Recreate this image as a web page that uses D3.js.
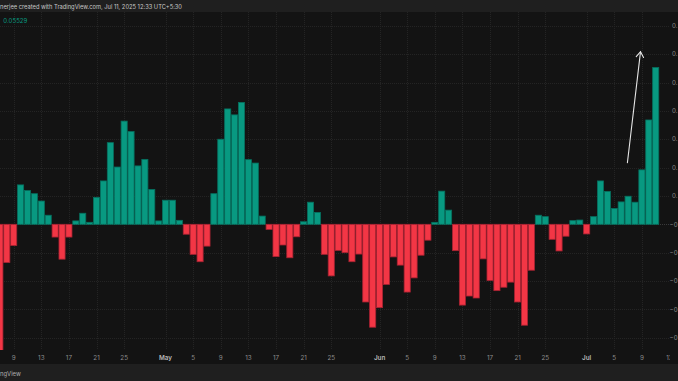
<!DOCTYPE html>
<html>
<head>
<meta charset="utf-8">
<script src="https://cdn.jsdelivr.net/npm/d3@7"></script>
<style>
html,body{margin:0;padding:0;background:#131313;overflow:hidden;}
svg{display:block;font-family:"Inter","Noto Sans",sans-serif;}
</style>
</head>
<body>
<svg id="chart" width="678" height="381"></svg>
<script>
// ---- data ----
const startDate = "2025-04-07";
const aprValues = [-0.0450,-0.0135,-0.0075,0.0139,0.0119,0.0108,0.0082,0.0032,-0.0045,-0.0123,-0.0045,0.0012,0.0039,0.0007,0.0095,0.0153,0.0288,0.0202,0.0364,0.0327,0.0206,0.0229,0.0123,0.0012];
const mayValues = [0.0085,0.0085,0.0014,-0.0035,-0.0106,-0.0132,-0.0077,0.0108,0.0300,0.0407,0.0386,0.0430,0.0228,0.0216,0.0029,-0.0018,-0.0114,-0.0073,-0.0118,-0.0044,0.0009,0.0078,0.0042,-0.0106,-0.0182,-0.0092,-0.0100,-0.0132,-0.0105,-0.0274,-0.0363];
const junValues = [-0.0294,-0.0212,-0.0115,-0.0144,-0.0239,-0.0189,-0.0109,-0.0056,0.0007,0.0117,0.0050,-0.0093,-0.0285,-0.0253,-0.0260,-0.0122,-0.0198,-0.0234,-0.0222,-0.0204,-0.0274,-0.0356,-0.0162,0.0032,0.0027,-0.0053,-0.0094,-0.0042,0.0013,0.0015];
const julValues = [-0.0034,0.0027,0.0153,0.0116,0.0056,0.0079,0.0099,0.0078,0.0192,0.0368,0.05529];
const xTickDates = ["2025-04-09","2025-04-13","2025-04-17","2025-04-21","2025-04-25","2025-05-01","2025-05-05","2025-05-09","2025-05-13","2025-05-17","2025-05-21","2025-05-25","2025-06-01","2025-06-05","2025-06-09","2025-06-13","2025-06-17","2025-06-21","2025-06-25","2025-07-01","2025-07-05","2025-07-09","2025-07-13"];
const xTickLabels = ["9","13","17","21","25","May","5","9","13","17","21","25","Jun","5","9","13","17","21","25","Jul","5","9","13"];
const yTicks = [0.07,0.06,0.05,0.04,0.03,0.02,0.01,0,-0.01,-0.02,-0.03,-0.04];
// price scale is cropped by the screenshot's right edge: only these fragments are visible
const yTickLabels = ["0.","0.","0.","0.","0.","0.","0.","−0","−0","−0","−0","−0"];
const arrowFrom = {date:"2025-07-06T21:36", value:0.0217};
const arrowTo   = {date:"2025-07-08T19:12", value:0.0609};
const headerText = "nerjee created with TradingView.com, Jul 11, 2025 12:33 UTC+5:30";
const legendValue = "0.05529";
const footerText = "ngView";

// ---- build ----
const values = aprValues.concat(mayValues, junValues, julValues);
const parse = d3.utcParse("%Y-%m-%d");
const parseT = d3.utcParse("%Y-%m-%dT%H:%M");
const dates = d3.utcDay.range(parse(startDate), d3.utcDay.offset(parse(startDate), values.length));
const data = dates.map((d,i)=>({date:d, value:values[i]}));

const W = 678, H = 381;
const paneTop = 12, paneBottom = 350, paneRight = 670;
const svg = d3.select("#chart");

svg.append("rect").attr("width",W).attr("height",H).attr("fill","#131313");

// scales
const x = d3.scaleUtc()
  .domain([parse("2025-04-09"), parse("2025-07-09")])
  .range([13.7, 641.9]);
const step = x(parse("2025-04-10")) - x(parse("2025-04-09"));
const y = d3.scaleLinear().domain([0, 0.07]).range([224.3, 25.85]);

const defs = svg.append("defs");
defs.append("clipPath").attr("id","pane").append("rect")
  .attr("x",0).attr("y",paneTop).attr("width",paneRight).attr("height",paneBottom-paneTop);
defs.append("clipPath").attr("id","timeaxis").append("rect")
  .attr("x",0).attr("y",paneBottom).attr("width",paneRight).attr("height",14);

// grid
const grid = svg.append("g").attr("clip-path","url(#pane)");
grid.selectAll("line.v").data(xTickDates).join("line")
  .attr("class","v")
  .attr("x1",d=>Math.round(x(parse(d)))+0.5).attr("x2",d=>Math.round(x(parse(d)))+0.5)
  .attr("y1",paneTop).attr("y2",paneBottom)
  .attr("stroke","#242424").attr("stroke-width",1).attr("stroke-dasharray","1,1");
grid.selectAll("line.h").data(yTicks).join("line")
  .attr("class","h")
  .attr("x1",0).attr("x2",paneRight)
  .attr("y1",d=>Math.round(y(d))+0.5).attr("y2",d=>Math.round(y(d))+0.5)
  .attr("stroke",d=>d===0?"#3a3a3a":"#242424").attr("stroke-width",1).attr("stroke-dasharray","1,1");

// bars
const bars = svg.append("g").attr("clip-path","url(#pane)");
bars.selectAll("rect").data(data).join("rect")
  .attr("x",d=>x(d.date)-step/2+0.4)
  .attr("width",step-0.8)
  .attr("y",d=>Math.min(y(d.value),y(0)))
  .attr("height",d=>Math.abs(y(d.value)-y(0)))
  .attr("fill",d=>d.value>=0?"#089981":"#f23645")
  .attr("stroke",d=>d.value>=0?"#06705f":"#a82232")
  .attr("stroke-width",0.8);

// arrow annotation
const ax1 = x(parseT(arrowFrom.date)), ay1 = y(arrowFrom.value);
const ax2 = x(parseT(arrowTo.date)), ay2 = y(arrowTo.value);
const ang = Math.atan2(ay2-ay1, ax2-ax1);
const headLen = 6.5, spread = 0.6;
const arrowG = svg.append("g").attr("clip-path","url(#pane)")
  .attr("stroke","#e6e6e6").attr("stroke-width",1.1).attr("fill","none").attr("stroke-linecap","round");
arrowG.append("line").attr("x1",ax1).attr("y1",ay1).attr("x2",ax2).attr("y2",ay2);
arrowG.append("path").attr("d", d3.line()([
  [ax2-headLen*Math.cos(ang-spread), ay2-headLen*Math.sin(ang-spread)],
  [ax2, ay2],
  [ax2-headLen*Math.cos(ang+spread), ay2-headLen*Math.sin(ang+spread)]
]));

// time axis labels
const tg = svg.append("g").attr("clip-path","url(#timeaxis)");
tg.selectAll("text").data(xTickDates).join("text")
  .attr("x",d=>x(parse(d)))
  .attr("y",360.3)
  .attr("text-anchor","middle")
  .attr("font-size",6.3)
  .attr("font-weight",(d,i)=>isNaN(+xTickLabels[i])?600:400)
  .attr("fill",(d,i)=>isNaN(+xTickLabels[i])?"#b8b8b8":"#8c8c8c")
  .text((d,i)=>xTickLabels[i]);

// price axis labels
svg.append("g").selectAll("text").data(yTicks).join("text")
  .attr("x",677.6)
  .attr("y",d=>y(d)+2.2)
  .attr("text-anchor","end")
  .attr("font-size",6.2)
  .attr("fill","#8c8c8c")
  .text((d,i)=>yTickLabels[i]);

// header band
svg.append("rect").attr("x",0).attr("y",0).attr("width",W).attr("height",paneTop).attr("fill","#1f1f1f");
svg.append("text").attr("x",0).attr("y",8.8).attr("font-size",5.75).attr("fill","#c8c8c8").text(headerText);

// legend value
svg.append("text").attr("x",3.3).attr("y",22.8).attr("font-size",6.1).attr("fill","#089981").text(legendValue);

// footer band
svg.append("rect").attr("x",0).attr("y",364).attr("width",W).attr("height",H-364).attr("fill","#1f1f1f");
svg.append("text").attr("x",0).attr("y",375.5).attr("font-size",5.9).attr("fill","#b0b0b0").text(footerText);
</script>
</body>
</html>
